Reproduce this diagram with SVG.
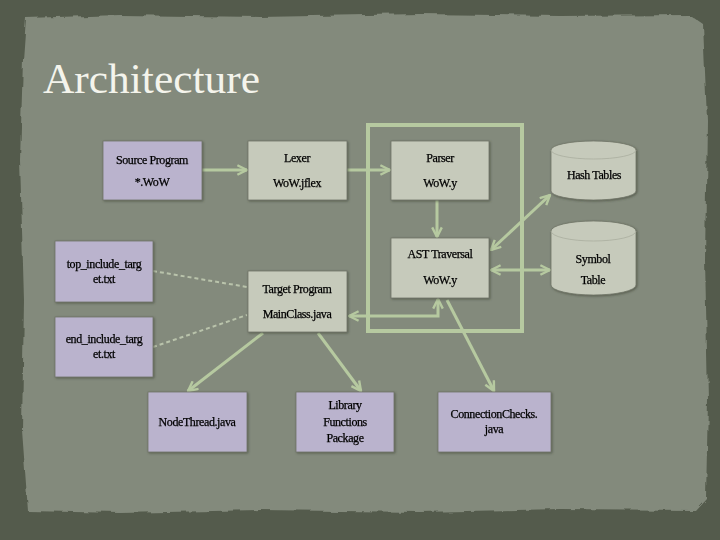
<svg xmlns="http://www.w3.org/2000/svg" width="720" height="540" viewBox="0 0 720 540">
<defs>
<style>
.box{stroke:#6f7366;stroke-width:0.8}
.purple{fill:#bab3cd}
.light{fill:#c6cabb}
.t{font-family:"Liberation Serif","Times New Roman",serif;font-size:12px;fill:#000;stroke:#000;stroke-width:0.25;text-anchor:middle;letter-spacing:-0.4px}
.conn{stroke:#b6c9a0;stroke-width:3;fill:none}
.dash{stroke:#b9c3ab;stroke-width:2;fill:none;stroke-dasharray:4 3}
</style>
<marker id="arr" viewBox="0 0 10 10" refX="9" refY="5" markerWidth="4" markerHeight="4" orient="auto-start-reverse" markerUnits="strokeWidth">
<path d="M1,1 L9,5 L1,9" fill="none" stroke="#b6c9a0" stroke-width="2"/>
</marker>
<filter id="sh" x="-10%" y="-10%" width="130%" height="130%">
<feDropShadow dx="1" dy="1" stdDeviation="1" flood-color="#3c4036" flood-opacity="0.6"/>
</filter>
<filter id="rough" x="-5%" y="-5%" width="110%" height="110%">
<feTurbulence type="fractalNoise" baseFrequency="0.05" numOctaves="3" seed="4" result="n"/>
<feDisplacementMap in="SourceGraphic" in2="n" scale="6"/>
</filter>
</defs>
<rect x="0" y="0" width="720" height="540" fill="#545b4c"/>
<path d="M26,18 L120,15 L260,17 L420,14 L560,16 L690,15 L703,24 L707,120 L705,260 L708,400 L706,498 L695,510 L560,509 L420,512 L260,510 L120,513 L28,511 L22,430 L24,300 L20,160 L23,60 Z" fill="#838a7c" filter="url(#rough)"/>
<text x="43" y="93" font-family="'Liberation Serif','Times New Roman',serif" font-size="42" fill="#f4f4ec" textLength="217" lengthAdjust="spacingAndGlyphs">Architecture</text>

<g id="connectors">
<rect x="368" y="125" width="154" height="206" fill="none" stroke="#b6c9a0" stroke-width="4"/>
<line class="conn" x1="202" y1="170" x2="247" y2="170" marker-end="url(#arr)"/>
<line class="conn" x1="347" y1="170" x2="390" y2="170" marker-end="url(#arr)"/>
<line class="conn" x1="437" y1="200" x2="437" y2="237" marker-end="url(#arr)"/>
<line class="conn" x1="491" y1="250" x2="550" y2="195" marker-start="url(#arr)" marker-end="url(#arr)"/>
<line class="conn" x1="491" y1="270" x2="550" y2="270" marker-start="url(#arr)" marker-end="url(#arr)"/>
<polyline class="conn" points="349,316 438,316 438,299" marker-start="url(#arr)" marker-end="url(#arr)"/>
<line class="conn" x1="447" y1="300" x2="494" y2="391" marker-end="url(#arr)"/>
<line class="conn" x1="263" y1="333" x2="188" y2="391" marker-end="url(#arr)"/>
<line class="conn" x1="318" y1="333" x2="361" y2="391" marker-end="url(#arr)"/>
<line class="dash" x1="153" y1="271" x2="247" y2="287"/>
<line class="dash" x1="153" y1="347" x2="247" y2="315"/>
</g>

<g id="source" filter="url(#sh)">
<rect class="box purple" x="103" y="141" width="99" height="59"/>
<text class="t" x="152" y="164">Source Program</text>
<text class="t" x="152" y="186">*.WoW</text>
</g>
<g id="lexer" filter="url(#sh)">
<rect class="box light" x="248" y="141" width="99" height="59"/>
<text class="t" x="297" y="162">Lexer</text>
<text class="t" x="297" y="187">WoW.jflex</text>
</g>
<g id="parser" filter="url(#sh)">
<rect class="box light" x="391" y="141" width="98" height="59"/>
<text class="t" x="440" y="162">Parser</text>
<text class="t" x="440" y="187">WoW.y</text>
</g>
<g id="ast" filter="url(#sh)">
<rect class="box light" x="391" y="238" width="98" height="60"/>
<text class="t" x="440" y="258">AST Traversal</text>
<text class="t" x="440" y="284">WoW.y</text>
</g>
<g id="hash" filter="url(#sh)">
<path class="box light" d="M551,150 A42.5,9 0 0 1 636,150 L636,191 A42.5,9 0 0 1 551,191 Z"/>
<path d="M551,150 A42.5,9 0 0 0 636,150" fill="none" stroke="#a9ad9e" stroke-width="0.8"/>
<text class="t" x="594" y="179">Hash Tables</text>
</g>
<g id="symbol" filter="url(#sh)">
<path class="box light" d="M551,231 A42.5,10 0 0 1 636,231 L636,285 A42.5,10 0 0 1 551,285 Z"/>
<path d="M551,231 A42.5,10 0 0 0 636,231" fill="none" stroke="#a9ad9e" stroke-width="0.8"/>
<text class="t" x="593" y="263">Symbol</text>
<text class="t" x="593" y="284">Table</text>
</g>
<g id="top_include" filter="url(#sh)">
<rect class="box purple" x="55" y="241" width="98" height="61"/>
<text class="t" x="104" y="268">top_include_targ</text>
<text class="t" x="104" y="283">et.txt</text>
</g>
<g id="end_include" filter="url(#sh)">
<rect class="box purple" x="55" y="317" width="98" height="60"/>
<text class="t" x="104" y="343">end_include_targ</text>
<text class="t" x="104" y="358">et.txt</text>
</g>
<g id="target" filter="url(#sh)">
<rect class="box light" x="248" y="271" width="99" height="61"/>
<text class="t" x="297" y="293">Target Program</text>
<text class="t" x="297" y="318">MainClass.java</text>
</g>
<g id="nodethread" filter="url(#sh)">
<rect class="box purple" x="148" y="392" width="99" height="60"/>
<text class="t" x="197" y="426">NodeThread.java</text>
</g>
<g id="library" filter="url(#sh)">
<rect class="box purple" x="296" y="392" width="98" height="60"/>
<text class="t" x="345" y="409">Library</text>
<text class="t" x="345" y="426">Functions</text>
<text class="t" x="345" y="442">Package</text>
</g>
<g id="connection" filter="url(#sh)">
<rect class="box purple" x="438" y="392" width="113" height="60"/>
<text class="t" x="494" y="418">ConnectionChecks.</text>
<text class="t" x="494" y="433">java</text>
</g>
</svg>
